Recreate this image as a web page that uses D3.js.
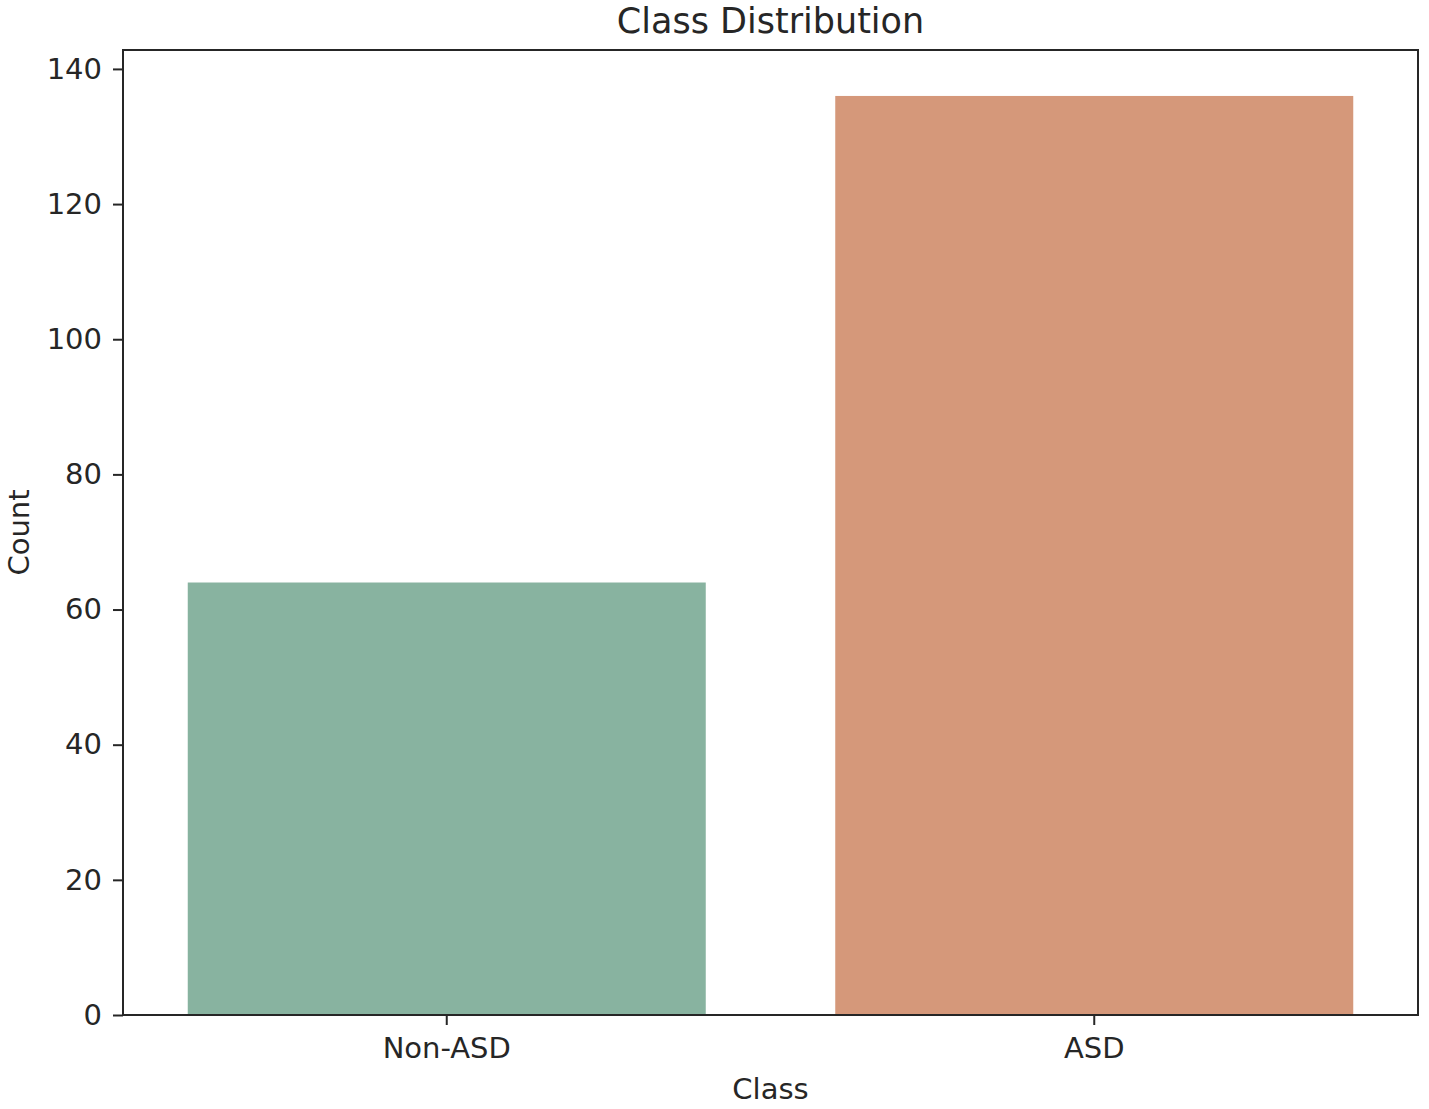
<!DOCTYPE html>
<html><head><meta charset="utf-8">
<script src="https://cdn.jsdelivr.net/npm/d3@7"></script>
<style>body{margin:0;background:#fff}svg{display:block}text{font-family:"DejaVu Sans",sans-serif;fill:#262626}</style>
</head><body><svg id="c" width="1429" height="1109"></svg>
<script>
const categories = ["Non-ASD", "ASD"];
const counts = [64, 136];
const yTicks = [0, 20, 40, 60, 80, 100, 120, 140];
const barColors = ["#88b3a0", "#d5987a"];

const svg = d3.select("#c");
const m = {l: 123, r: 1418, t: 50, b: 1015};
const x = d3.scaleBand().domain(categories).range([m.l, m.r]).paddingInner(0.2).paddingOuter(0.1);
const y = d3.scaleLinear().domain([0, d3.max(counts) * 1.05]).range([m.b, m.t]);

svg.append("g").selectAll("rect").data(categories).join("rect")
  .attr("x", d => x(d)).attr("width", x.bandwidth())
  .attr("y", (d, i) => y(counts[i])).attr("height", (d, i) => y(0) - y(counts[i]))
  .attr("fill", (d, i) => barColors[i]);

const yAxis = svg.append("g").attr("transform", `translate(${m.l},0)`)
  .call(d3.axisLeft(y).tickValues(yTicks).tickSize(10).tickPadding(11).tickSizeOuter(0));
const xAxis = svg.append("g").attr("transform", `translate(0,${m.b})`)
  .call(d3.axisBottom(x).tickSize(10).tickPadding(12).tickSizeOuter(0));
[yAxis, xAxis].forEach(a => {
  a.select(".domain").remove();
  a.selectAll("line").attr("stroke", "#262626").attr("stroke-width", 2);
  a.selectAll("text").attr("font-size", 29).attr("font-family", "DejaVu Sans").attr("fill", "#262626");
});

svg.append("rect").attr("x", m.l).attr("y", m.t).attr("width", m.r - m.l).attr("height", m.b - m.t)
  .attr("fill", "none").attr("stroke", "#262626").attr("stroke-width", 2);

svg.append("text").attr("x", (m.l + m.r) / 2).attr("y", 33).attr("text-anchor", "middle")
  .attr("font-size", 35).text("Class Distribution");
svg.append("text").attr("x", (m.l + m.r) / 2).attr("y", 1099).attr("text-anchor", "middle")
  .attr("font-size", 29).text("Class");
svg.append("text").attr("transform", `translate(29,${(m.t + m.b) / 2}) rotate(-90)`).attr("text-anchor", "middle")
  .attr("font-size", 29).text("Count");
</script></body></html>
